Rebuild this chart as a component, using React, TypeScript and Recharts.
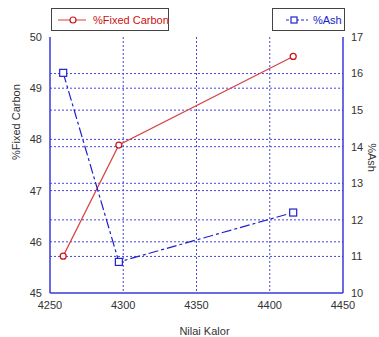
import {
  LineChart,
  Line,
  XAxis,
  YAxis,
  CartesianGrid,
} from 'recharts';

const kalor = [4259, 4297, 4416];
const fixedCarbon = [45.72, 47.89, 49.62];
const ash = [16.02, 10.85, 12.2];

const xTicks = [4250, 4300, 4350, 4400, 4450];
const leftTicks = [45, 46, 47, 48, 49, 50];
const rightTicks = [10, 11, 12, 13, 14, 15, 16, 17];

const chartData = kalor.map((k, i) => ({
  kalor: k,
  fixedCarbon: fixedCarbon[i],
  ash: ash[i],
}));

const AXIS = '#3838d8';
const GRID = '#4646e0';
const RED = '#cc1111';
const BLUE = '#2020cc';
const FONT = 'Liberation Sans, Arial, sans-serif';
const tickStyle = { fill: '#333', fontSize: 11, fontFamily: FONT };

const Square = (props: any) => {
  const { cx, cy } = props;
  if (cx == null || cy == null) return null;
  return <rect x={cx - 3.5} y={cy - 3.5} width={7} height={7} fill="#fff" stroke={BLUE} strokeWidth={1.2} />;
};

const boxStyle = {
  position: 'absolute' as const,
  top: 8,
  height: 21,
  border: '1px solid #444',
  display: 'flex',
  alignItems: 'center',
  whiteSpace: 'nowrap' as const,
  fontFamily: FONT,
  fontSize: 11,
  background: '#fff',
};

const LegendBoxes = () => (
  <>
    <div style={{ ...boxStyle, left: 51, width: 116, color: RED }}>
      <svg width={36} height={10} style={{ marginLeft: 5, flexShrink: 0 }}>
        <line x1={1} y1={5} x2={29} y2={5} stroke="#e06060" strokeWidth={1.2} />
        <circle cx={16} cy={5} r={3} fill="#fff" stroke={RED} strokeWidth={1.2} />
      </svg>
      <span>%Fixed Carbon</span>
    </div>
    <div style={{ ...boxStyle, left: 272, width: 71, color: BLUE }}>
      <svg width={28} height={10} style={{ marginLeft: 12, flexShrink: 0 }}>
        <line x1={1} y1={5} x2={23} y2={5} stroke={BLUE} strokeWidth={1.2} strokeDasharray="3 2 8 2" />
        <rect x={6} y={2} width={6} height={6} fill="#fff" stroke={BLUE} strokeWidth={1.2} />
      </svg>
      <span>%Ash</span>
    </div>
  </>
);

export default function App() {
  return (
    <div style={{ width: 379, height: 337, position: 'relative', background: '#fff' }}>
      <style>{`body{margin:0}`}</style>
      <LineChart
        width={379}
        height={337}
        data={chartData}
        margin={{ top: 37, right: 6, left: 20, bottom: 14 }}
      >
        <CartesianGrid
          yAxisId="left"
          vertical
          horizontal
          stroke={GRID}
          strokeDasharray="2 2"
          horizontalValues={[46, 47, 48, 49]}
          verticalValues={[4300, 4350, 4400]}
        />
        <CartesianGrid
          yAxisId="right"
          vertical={false}
          stroke={GRID}
          strokeDasharray="2 2"
          horizontalValues={[11, 12, 13, 14, 15, 16]}
        />
        <XAxis
          dataKey="kalor"
          type="number"
          domain={[4250, 4450]}
          ticks={xTicks}
          tick={tickStyle}
          tickLine={false}
          axisLine={{ stroke: AXIS, strokeWidth: 1.5 }}
          height={30}
          label={{ value: 'Nilai Kalor', position: 'insideBottom', offset: -12, dx: 8, style: tickStyle }}
        />
        <XAxis
          xAxisId="top"
          orientation="top"
          dataKey="kalor"
          type="number"
          domain={[4250, 4450]}
          tick={false}
          tickLine={false}
          height={0}
          axisLine={{ stroke: AXIS, strokeWidth: 1.5 }}
        />
        <YAxis
          yAxisId="left"
          domain={[45, 50]}
          ticks={leftTicks}
          tick={tickStyle}
          tickLine={false}
          width={30}
          axisLine={{ stroke: AXIS, strokeWidth: 1.5 }}
          label={{ value: '%Fixed Carbon', angle: -90, position: 'insideLeft', offset: -4, dy: -5, style: tickStyle }}
        />
        <YAxis
          yAxisId="right"
          orientation="right"
          domain={[10, 17]}
          ticks={rightTicks}
          tick={tickStyle}
          tickLine={false}
          width={30}
          axisLine={{ stroke: AXIS, strokeWidth: 1.5 }}
          label={{ value: '%Ash', angle: 90, position: 'insideRight', offset: 1, dy: 7, style: tickStyle }}
        />
        <Line
          yAxisId="left"
          dataKey="fixedCarbon"
          type="linear"
          stroke="#d84040"
          strokeWidth={1.2}
          dot={{ r: 3, fill: '#fff', stroke: RED, strokeWidth: 1.2 }}
          isAnimationActive={false}
        />
        <Line
          yAxisId="right"
          dataKey="ash"
          type="linear"
          stroke={BLUE}
          strokeWidth={1.2}
          strokeDasharray="10 3 3 3"
          dot={<Square />}
          isAnimationActive={false}
        />
      </LineChart>
      <LegendBoxes />
    </div>
  );
}
